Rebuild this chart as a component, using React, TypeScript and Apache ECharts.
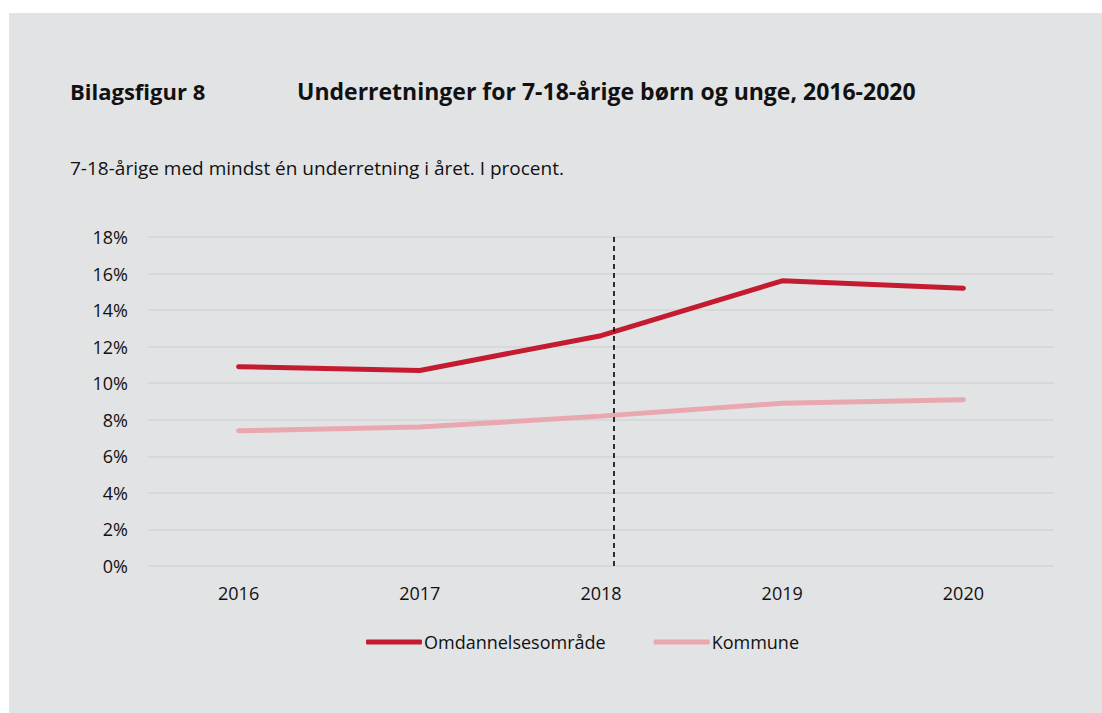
import React, { useEffect, useRef } from "react";
import * as echarts from "echarts";

const years = ["2016", "2017", "2018", "2019", "2020"];
const omdannelsesomraade = [10.9, 10.7, 12.6, 15.6, 15.2];
const kommune = [7.4, 7.6, 8.2, 8.9, 9.1];
const yTicks = { min: 0, max: 18, interval: 2 };
const reformMarker = 2.07; // position on category index scale

const FONT = '"Open Sans", sans-serif';

export default function App() {
  const ref = useRef<HTMLDivElement>(null);
  useEffect(() => {
    if (!ref.current) return;
    const chart = echarts.init(ref.current, undefined, { renderer: "svg" });
    chart.setOption({
      animation: false,
      backgroundColor: "#ffffff",
      graphic: [
        { type: "rect", z: -10, shape: { x: 9, y: 13, width: 1093, height: 700 }, style: { fill: "#e2e3e5" } },
        { type: "text", x: 70, y: 91, style: { text: "Bilagsfigur 8", font: `bold 22px ${FONT}`, fill: "#111111", verticalAlign: "middle" } },
        { type: "text", x: 297, y: 91, style: { text: "Underretninger for 7-18-årige børn og unge, 2016-2020", font: `bold 23px ${FONT}`, fill: "#111111", verticalAlign: "middle" } },
        { type: "text", x: 70, y: 168, style: { text: "7-18-årige med mindst én underretning i året. I procent.", font: `19px ${FONT}`, fill: "#111111", verticalAlign: "middle" } },
      ],
      grid: { left: 148, right: 48, top: 237, bottom: 147 },
      legend: {
        left: 361,
        top: 628,
        itemWidth: 56,
        itemHeight: 5,
        itemGap: 48,
        icon: "roundRect",
        textStyle: { fontFamily: FONT, fontSize: 18, color: "#111111", padding: [0, 0, 0, -3] },
        data: ["Omdannelsesområde", "Kommune"],
      },
      xAxis: [
        {
          type: "category",
          data: years,
          boundaryGap: true,
          axisLine: { show: false },
          axisTick: { show: false },
          axisLabel: { fontFamily: FONT, fontSize: 18, color: "#111111", margin: 18 },
        },
        { type: "value", min: -0.5, max: 4.5, show: false },
      ],
      yAxis: {
        type: "value",
        min: yTicks.min,
        max: yTicks.max,
        interval: yTicks.interval,
        axisLine: { show: false },
        axisTick: { show: false },
        axisLabel: { fontFamily: FONT, fontSize: 18, color: "#111111", margin: 20, formatter: (v: number) => `${v}%` },
        splitLine: { lineStyle: { color: "#d3d4d6", width: 1.5 } },
      },
      series: [
        {
          name: "Omdannelsesområde",
          type: "line",
          data: omdannelsesomraade,
          symbol: "none",
          itemStyle: { color: "#c41b31" },
          lineStyle: { color: "#c41b31", width: 5, cap: "round" },
        },
        {
          name: "Kommune",
          type: "line",
          data: kommune,
          symbol: "none",
          itemStyle: { color: "#e9a7af" },
          lineStyle: { color: "#e9a7af", width: 5, cap: "round" },
        },
        {
          name: "marker",
          type: "line",
          xAxisIndex: 1,
          data: [],
          markLine: {
            silent: true,
            symbol: "none",
            label: { show: false },
            lineStyle: { color: "#000000", type: [5, 4], width: 1.6 },
            data: [{ xAxis: reformMarker }],
          },
        },
      ],
    });
    return () => chart.dispose();
  }, []);
  return <div ref={ref} style={{ position: "absolute", left: 0, top: 0, width: 1102, height: 713 }} />;
}
